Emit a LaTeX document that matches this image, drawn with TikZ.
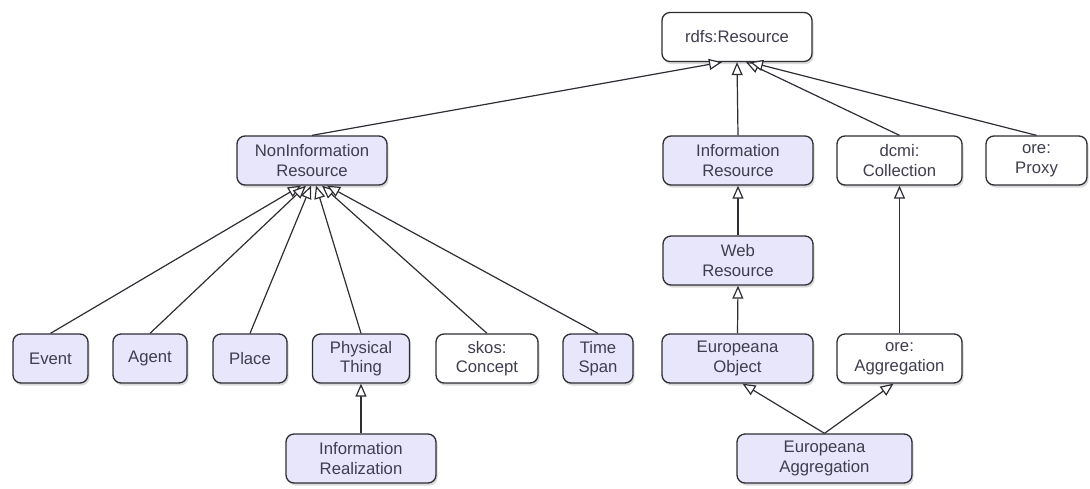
\documentclass[tikz,border=0pt]{standalone}
\usepackage{fontspec}
\setmainfont{Liberation Sans}
\usepackage{xcolor}
\usetikzlibrary{shadows, arrows.meta}
\definecolor{classfill}{RGB}{232,230,250}
\definecolor{boxline}{RGB}{45,45,52}
\definecolor{boxtext}{RGB}{62,62,78}
\tikzset{
    class box/.style = {draw = boxline, line width = 1.3pt, rounded corners = 8pt,
        fill = classfill, text = boxtext, align = center, inner sep = 0pt,
        minimum height = 49pt, font = \fontsize{16.7}{19.5}\selectfont,
        drop shadow = {shadow xshift = 1.5pt, shadow yshift = -2.5pt, opacity = 0.3}},
    ext box/.style = {class box, fill = white},
}
\tikzset{
    isa/.style = {draw = boxline, line width = 1.2pt,
        -{Triangle[fill = white, length = 13pt, width = 11pt, line width = 1.2pt]}},
}

\begin{document}
\begin{tikzpicture}[x = 1pt, y = -1pt]
            \useasboundingbox (0, 0) rectangle (1090, 488);

            \node[ext box, minimum width = 150pt] (res) at (737, 37) {rdfs:Resource};

            \node[class box, minimum width = 150pt] (noninfo) at (312, 160.5) {NonInformation\\Resource};
            \node[class box, minimum width = 150pt] (info) at (738, 160.5) {Information\\Resource};
            \node[ext box, minimum width = 125pt] (coll) at (899.5, 160.5) {dcmi:\\Collection};
            \node[ext box, minimum width = 101pt] (proxy) at (1036.5, 160.5) {ore:\\Proxy};

            \node[class box, minimum width = 150pt] (web) at (738, 260.5) {Web\\Resource};

            \node[class box, minimum width = 75pt] (event) at (50.5, 358.5) {Event};
            \node[class box, minimum width = 74pt] (agent) at (150, 358.5) {Agent};
            \node[class box, minimum width = 74pt] (place) at (250, 358.5) {Place};
            \node[class box, minimum width = 97pt] (phys) at (361, 358.5) {Physical\\Thing};
            \node[ext box, minimum width = 102pt] (concept) at (487, 358.5) {skos:\\Concept};
            \node[class box, minimum width = 70pt] (span) at (598, 358.5) {Time\\Span};
            \node[class box, minimum width = 151pt] (euobj) at (737.5, 358.5) {Europeana\\Object};
            \node[ext box, minimum width = 125pt] (agg) at (899.5, 358.5) {ore:\\Aggregation};

            \node[class box, minimum width = 150pt] (real) at (361, 458.5) {Information\\Realization};
            \node[class box, minimum width = 175pt] (euagg) at (824.5, 458.5) {Europeana\\Aggregation};

            \draw[isa] (noninfo.north) -- ([xshift = -15pt]res.south);
            \draw[isa] (info.north) -- (res.south);
            \draw[isa] (coll.north) -- ([xshift = 9pt]res.south);
            \draw[isa] (proxy.north) -- ([xshift = 13pt]res.south);

            \draw[isa] (event.north) -- ([xshift = -11pt]noninfo.south);
            \draw[isa] (agent.north) -- ([xshift = -6pt]noninfo.south);
            \draw[isa] (place.north) -- ([xshift = -1pt]noninfo.south);
            \draw[isa] (phys.north) -- ([xshift = 4pt]noninfo.south);
            \draw[isa] (concept.north) -- ([xshift = 10pt]noninfo.south);
            \draw[isa] (span.north) -- ([xshift = 15pt]noninfo.south);
            \draw[isa] (real.north) -- (phys.south);

            \draw[isa] (web.north) -- (info.south);
            \draw[isa] (euobj.north) -- (web.south);
            \draw[isa] (agg.north) -- (coll.south);
            \draw[isa] (euagg.north) -- ([xshift = 5pt]euobj.south);
            \draw[isa] (euagg.north) -- ([xshift = -6pt]agg.south);
        \end{tikzpicture}
\end{document}
